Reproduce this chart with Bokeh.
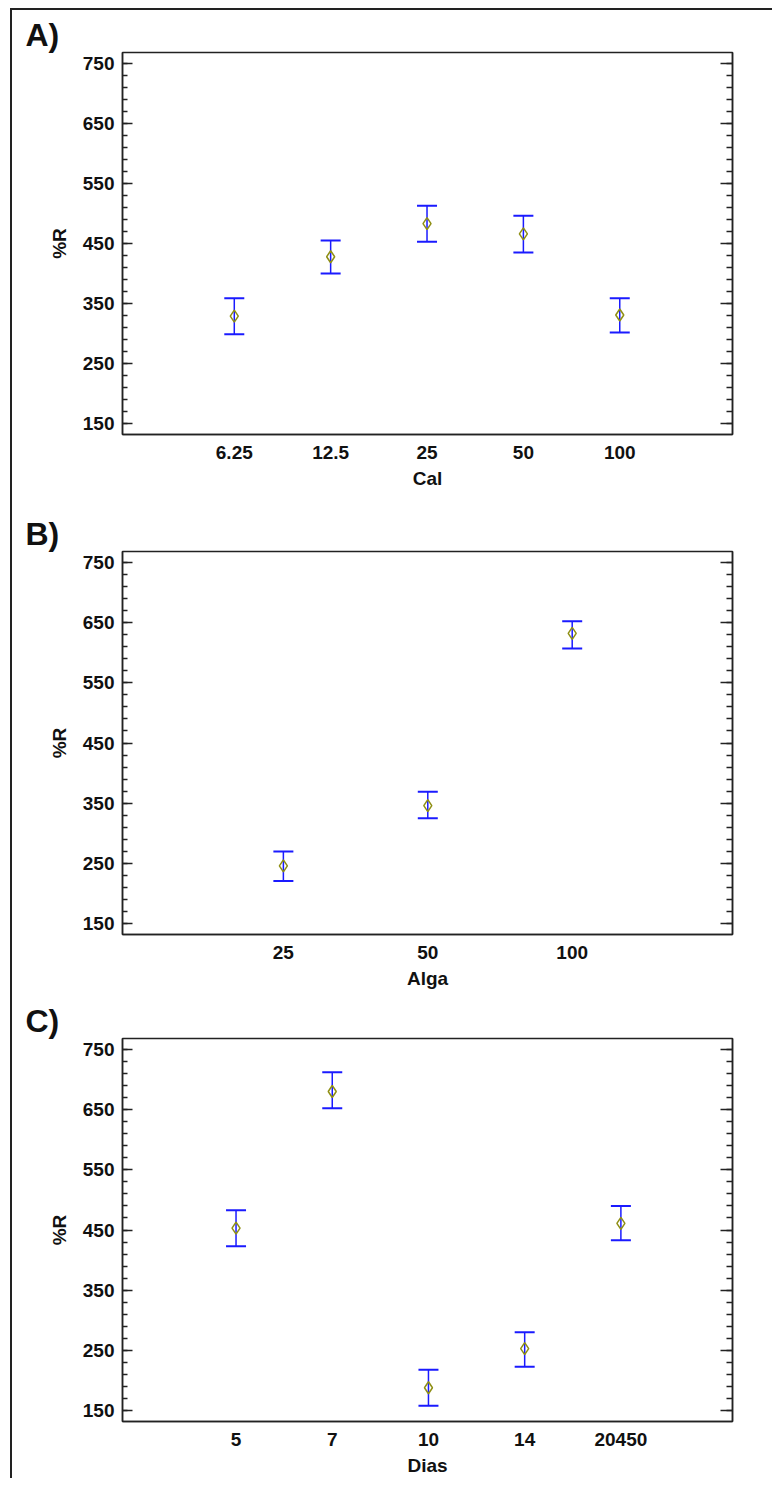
from bokeh.plotting import figure
from bokeh.models import (ColumnDataSource, Range1d, FixedTicker, LinearAxis,
                          Whisker, TeeHead, Title)
from bokeh.layouts import column
from bokeh.embed import file_html
from bokeh.resources import INLINE

# ---------------- data ----------------
cal_labels = ["6.25", "12.5", "25", "50", "100"]
cal_mean = [329, 428, 483, 466, 331]
cal_low = [299, 400, 453, 435, 302]
cal_high = [359, 455, 513, 496, 359]

alga_labels = ["25", "50", "100"]
alga_mean = [246, 346, 632]
alga_low = [221, 325, 607]
alga_high = [270, 369, 652]

dias_labels = ["5", "7", "10", "14", "20450"]
dias_mean = [453, 680, 188, 253, 461]
dias_low = [423, 652, 158, 223, 433]
dias_high = [483, 712, 218, 280, 490]

y_ticks = [150, 250, 350, 450, 550, 650, 750]
y_minor = list(range(130, 771, 20))

FONT = "Liberation Sans"
TXT = "#111111"
BLUE = "#1a1aff"
OLIVE = "#8f8f14"


def make_panel(tag, labels, mean, low, high, xlabel, xr, height, top, bottom):
    n = len(labels)
    xs = list(range(1, n + 1))
    p = figure(width=760, height=height, output_backend="svg", toolbar_location=None,
               x_range=Range1d(*xr), y_range=Range1d(132, 768),
               min_border_left=110, min_border_right=40,
               min_border_top=top, min_border_bottom=bottom,
               x_axis_label=xlabel, y_axis_label="%R")
    p.grid.visible = False
    p.outline_line_color = "#222222"
    p.outline_line_width = 1.5
    p.background_fill_alpha = 0
    p.border_fill_alpha = 0

    # x axis
    xa = p.xaxis[0]
    xa.ticker = FixedTicker(ticks=xs)
    xa.major_label_overrides = {i: l for i, l in zip(xs, labels)}
    xa.major_tick_in = 0
    xa.major_tick_out = 0
    xa.minor_tick_in = 0
    xa.minor_tick_out = 0
    xa.axis_line_color = "#222222"
    xa.axis_line_width = 1.5
    xa.major_label_standoff = 11
    xa.axis_label_standoff = 6

    # y axis
    ya = p.yaxis[0]
    ya.ticker = FixedTicker(ticks=y_ticks, minor_ticks=y_minor)
    ya.major_tick_in = 10
    ya.major_tick_out = 0
    ya.minor_tick_in = 5
    ya.minor_tick_out = 0
    ya.axis_line_color = "#222222"
    ya.axis_line_width = 1.5
    ya.major_tick_line_color = "#222222"
    ya.minor_tick_line_color = "#222222"
    ya.major_tick_line_width = 1.5
    ya.minor_tick_line_width = 1.5
    ya.major_label_standoff = 8
    ya.axis_label_standoff = 10

    ra = LinearAxis(ticker=FixedTicker(ticks=y_ticks, minor_ticks=y_minor),
                    major_tick_in=12, major_tick_out=0,
                    minor_tick_in=6, minor_tick_out=0,
                    major_label_overrides={t: "" for t in y_ticks},
                    axis_line_color="#222222", axis_line_width=1.5,
                    major_tick_line_color="#222222", minor_tick_line_color="#222222",
                    major_tick_line_width=1.5, minor_tick_line_width=1.5)
    p.add_layout(ra, "right")

    for ax in (xa, ya):
        ax.major_label_text_font = FONT
        ax.major_label_text_font_style = "bold"
        ax.major_label_text_font_size = "19px"
        ax.major_label_text_color = TXT
        ax.axis_label_text_font = FONT
        ax.axis_label_text_font_style = "bold"
        ax.axis_label_text_font_size = "19px"
        ax.axis_label_text_color = TXT

    src = ColumnDataSource(dict(x=xs, m=mean, lo=low, hi=high))
    w = Whisker(source=src, base="x", upper="hi", lower="lo", dimension="height",
                line_color=BLUE, line_width=1.5,
                upper_head=TeeHead(size=20, line_color=BLUE, line_width=2),
                lower_head=TeeHead(size=20, line_color=BLUE, line_width=2))
    p.add_layout(w)
    p.scatter("x", "m", source=src, marker="diamond", size=12,
              fill_color=None, line_color=OLIVE, line_width=1.5)

    p.add_layout(Title(text=tag, align="left", offset=-97, standoff=0,
                       text_font=FONT, text_font_style="bold",
                       text_font_size="32px", text_color=TXT), "above")
    return p


pa = make_panel("A)", cal_labels, cal_mean, cal_low, cal_high, "Cal",
                (-0.16, 6.17), 497, 42, 73)
pb = make_panel("B)", alga_labels, alga_mean, alga_low, alga_high, "Alga",
                (-0.114, 4.11), 487, 44, 60)
pc = make_panel("C)", dias_labels, dias_mean, dias_low, dias_high, "Dias",
                (-0.18, 6.16), 484, 44, 57)

layout = column(pa, pb, pc, spacing=0,
                styles={"border-left": "2px solid #222222",
                        "border-top": "2px solid #222222",
                        "margin-left": "10px", "margin-top": "8px"})

open("out.html", "w").write(file_html(layout, INLINE))
